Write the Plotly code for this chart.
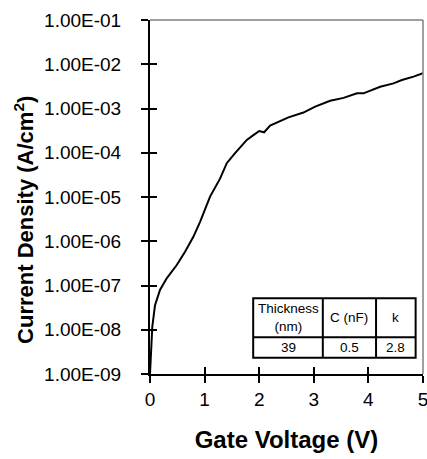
import plotly.graph_objects as go

# Data
gate_voltage = [0.0, 0.018, 0.042, 0.092, 0.183, 0.306, 0.49, 0.642, 0.794, 0.917,
                1.10, 1.283, 1.406, 1.558, 1.773, 1.894, 2.00, 2.09, 2.20, 2.535,
                2.81, 3.025, 3.30, 3.545, 3.79, 3.91, 4.216, 4.46, 4.614, 4.827, 5.0]
current_density = [1.0e-9, 3.5e-9, 1.17e-8, 3.6e-8, 7.9e-8, 1.45e-7, 2.9e-7, 5.8e-7, 1.26e-6, 2.75e-6,
                   1.02e-5, 2.6e-5, 5.8e-5, 9.8e-5, 1.95e-4, 2.5e-4, 3.1e-4, 2.9e-4, 4.1e-4, 6.3e-4,
                   8.1e-4, 1.1e-3, 1.5e-3, 1.74e-3, 2.2e-3, 2.2e-3, 3.1e-3, 3.7e-3, 4.4e-3, 5.25e-3, 6.3e-3]

x_tickvals = [0, 1, 2, 3, 4, 5]
y_tickvals = [1e-9, 1e-8, 1e-7, 1e-6, 1e-5, 1e-4, 1e-3, 1e-2, 1e-1]
y_ticktext = ["1.00E-09", "1.00E-08", "1.00E-07", "1.00E-06", "1.00E-05",
              "1.00E-04", "1.00E-03", "1.00E-02", "1.00E-01"]

table_header = ["Thickness<br>(nm)", "C (nF)", "k"]
table_values = ["39", "0.5", "2.8"]

FONT = "Arial, Liberation Sans, sans-serif"

fig = go.Figure()

fig.add_trace(go.Scatter(
    x=gate_voltage, y=current_density, mode="lines",
    line=dict(color="black", width=2), showlegend=False, hoverinfo="skip",
))
# invisible trace anchoring the overlay axes (inside tick marks -> cross ticks)
fig.add_trace(go.Scatter(
    x=gate_voltage, y=current_density, mode="lines", xaxis="x2", yaxis="y2",
    line=dict(color="rgba(0,0,0,0)", width=0), showlegend=False, hoverinfo="skip",
))

# ---- inset table (paper coordinates) ----
col_edges = [0.378, 0.633, 0.828, 0.973]
row_edges = [0.214, 0.104, 0.046]  # top, header/body separator, bottom
shapes = [
    dict(type="line", xref="paper", yref="paper", x0=0, x1=1, y0=1, y1=1,
         line=dict(color="#808080", width=1.5)),
    dict(type="line", xref="paper", yref="paper", x0=1, x1=1, y0=0, y1=1,
         line=dict(color="#808080", width=1.5)),
    dict(type="rect", xref="paper", yref="paper", x0=col_edges[0], x1=col_edges[-1],
         y0=row_edges[-1], y1=row_edges[0], fillcolor="white",
         line=dict(color="black", width=2), layer="above"),
    dict(type="line", xref="paper", yref="paper", x0=col_edges[0], x1=col_edges[-1],
         y0=row_edges[1], y1=row_edges[1], line=dict(color="black", width=2), layer="above"),
]
for ce in col_edges[1:-1]:
    shapes.append(dict(type="line", xref="paper", yref="paper", x0=ce, x1=ce,
                       y0=row_edges[-1], y1=row_edges[0],
                       line=dict(color="black", width=2), layer="above"))

annotations = [
    dict(text="<b>Current Density (A/cm<sup>2</sup>)</b>", textangle=-90,
         xref="paper", yref="paper", x=-0.462, y=0.435,
         xanchor="center", yanchor="middle", showarrow=False,
         font=dict(size=22, family=FONT, color="black")),
]
for i in range(3):
    xc = (col_edges[i] + col_edges[i + 1]) / 2
    annotations.append(dict(text=table_header[i], xref="paper", yref="paper",
                            x=xc, y=(row_edges[0] + row_edges[1]) / 2,
                            xanchor="center", yanchor="middle", showarrow=False,
                            font=dict(size=13.5, family=FONT, color="black")))
    annotations.append(dict(text=table_values[i], xref="paper", yref="paper",
                            x=xc, y=(row_edges[1] + row_edges[2]) / 2,
                            xanchor="center", yanchor="middle", showarrow=False,
                            font=dict(size=13.5, family=FONT, color="black")))

fig.update_layout(
    width=427, height=459,
    margin=dict(l=150, r=4, t=20, b=85),
    paper_bgcolor="white", plot_bgcolor="white",
    font=dict(family=FONT, size=18, color="black"),
    xaxis=dict(range=[0, 5], tickvals=x_tickvals, ticks="outside", ticklen=7,
               tickwidth=1.5, tickcolor="black", showline=True, linecolor="black",
               linewidth=2, showgrid=False, zeroline=False, ticklabeloverflow="allow",
               automargin=False, tickfont=dict(size=19),
               title=dict(text="<b>Gate Voltage (V)</b>", font=dict(size=24), standoff=22)),
    yaxis=dict(type="log", range=[-9, -1], tickvals=y_tickvals, ticktext=y_ticktext,
               ticks="outside", ticklen=7, tickwidth=1.5, tickcolor="black",
               showline=True, linecolor="black", linewidth=2, showgrid=False,
               automargin=False, zeroline=False, tickfont=dict(size=19),
               ticklabelstandoff=16),
    xaxis2=dict(range=[0, 5], tickvals=x_tickvals, ticks="inside", ticklen=7,
                tickwidth=1.5, tickcolor="black", showticklabels=False,
                showline=False, showgrid=False, zeroline=False, automargin=False,
                overlaying="x", anchor="y2", side="bottom"),
    yaxis2=dict(type="log", range=[-9, -1], tickvals=y_tickvals, ticks="inside",
                ticklen=7, tickwidth=1.5, tickcolor="black", showticklabels=False,
                showline=False, showgrid=False, zeroline=False, automargin=False,
                overlaying="y", anchor="x2", side="left"),
    shapes=shapes,
    annotations=annotations,
)

fig.write_html("out.html")
